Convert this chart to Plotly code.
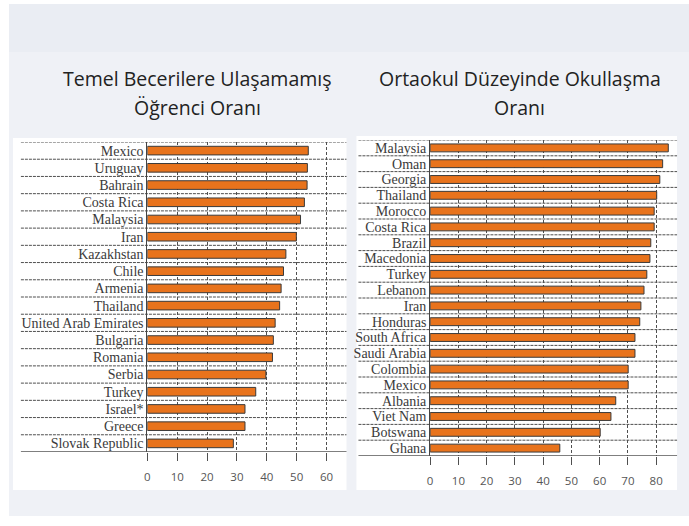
import plotly.graph_objects as go

W, H = 689, 526

# ---- data ----
left_countries = ["Mexico", "Uruguay", "Bahrain", "Costa Rica", "Malaysia", "Iran",
                  "Kazakhstan", "Chile", "Armenia", "Thailand", "United Arab Emirates",
                  "Bulgaria", "Romania", "Serbia", "Turkey", "Israel*", "Greece",
                  "Slovak Republic"]
left_values = [53.9, 53.6, 53.5, 52.6, 51.3, 49.9, 46.4, 45.6, 44.8, 44.3, 42.8,
               42.2, 41.9, 39.7, 36.3, 32.7, 32.7, 28.8]

right_countries = ["Malaysia", "Oman", "Georgia", "Thailand", "Morocco", "Costa Rica",
                   "Brazil", "Macedonia", "Turkey", "Lebanon", "Iran", "Honduras",
                   "South Africa", "Saudi Arabia", "Colombia", "Mexico", "Albania",
                   "Viet Nam", "Botswana", "Ghana"]
right_values = [84.3, 82.3, 81.3, 80.2, 79.3, 79.3, 78.1, 77.8, 76.7, 75.7, 74.6, 74.2,
                72.5, 72.5, 70.1, 70.1, 65.7, 64.0, 60.2, 45.9]

left_ticks = [0, 10, 20, 30, 40, 50, 60]
right_ticks = [0, 10, 20, 30, 40, 50, 60, 70, 80]

title_left = ["Temel Becerilere Ulaşamamış", "Öğrenci Oranı"]
title_right = ["Ortaokul Düzeyinde Okullaşma", "Oranı"]

# ---- styles ----
BAR = "#E8731C"
EDGE = "#3a3a3a"
GRID = "#4f4f4f"
LABEL_FONT = dict(family="Liberation Serif", size=14, color="#3a3a3a")
TICK_FONT = dict(family="Open Sans", size=11.5, color="#555555")
TITLE_FONT = dict(family="Open Sans", size=19.5, color="#222222")

px = lambda v: v / W
py = lambda v: 1 - v / H

fig = go.Figure()
fig.add_trace(go.Bar(x=left_values, y=left_countries, orientation="h",
                     marker=dict(color=BAR, line=dict(color=EDGE, width=1)),
                     width=0.5, xaxis="x", yaxis="y", hoverinfo="x+y"))
fig.add_trace(go.Bar(x=right_values, y=right_countries, orientation="h",
                     marker=dict(color=BAR, line=dict(color=EDGE, width=1)),
                     width=0.5, xaxis="x2", yaxis="y2", hoverinfo="x+y"))

shapes = []
# page bands
shapes.append(dict(type="rect", xref="paper", yref="paper", x0=px(6), x1=1, y0=py(516), y1=py(4),
                   fillcolor="#eff1f6", line=dict(width=0), layer="below"))
shapes.append(dict(type="rect", xref="paper", yref="paper", x0=px(6), x1=1, y0=py(52), y1=py(4),
                   fillcolor="#eaedf3", line=dict(width=0), layer="below"))
# white panels
shapes.append(dict(type="rect", xref="paper", yref="paper", x0=px(10), x1=px(345), y0=py(490), y1=py(138),
                   fillcolor="white", line=dict(width=0), layer="below"))
shapes.append(dict(type="rect", xref="paper", yref="paper", x0=px(355), x1=px(677), y0=py(490), y1=py(136),
                   fillcolor="white", line=dict(width=0), layer="below"))

def row_lines(n, yref, xa, xb):
    out = []
    for i in range(n):
        out.append(dict(type="line", xref="paper", yref=yref, x0=px(xa), x1=px(xb),
                        y0=i - 0.5, y1=i - 0.5,
                        line=dict(color=GRID, width=1, dash="3px,1px"), layer="below"))
    out.append(dict(type="line", xref="paper", yref=yref, x0=px(xa), x1=px(xb),
                    y0=n - 0.5, y1=n - 0.5, line=dict(color="#555555", width=1.5), layer="above"))
    return out

shapes += row_lines(len(left_countries), "y", 18, 345)
shapes += row_lines(len(right_countries), "y2", 357, 677)

axis_common = dict(showgrid=True, gridcolor=GRID, griddash="3px,2px", gridwidth=1,
                   ticks="outside", ticklen=8, tickcolor=GRID, tickwidth=1,
                   ticklabelstandoff=6,
                   tickfont=TICK_FONT, zeroline=False, showline=False, fixedrange=True)

annotations = []
for lines, cx in ((title_left, 195), (title_right, 519)):
    for k, line in enumerate(lines):
        annotations.append(dict(text=line, xref="paper", yref="paper", x=px(cx), y=py(78 + 29 * k),
                                xanchor="center", yanchor="middle", showarrow=False,
                                font=TITLE_FONT))

fig.update_layout(
    width=W, height=H, margin=dict(l=0, r=0, t=0, b=0),
    paper_bgcolor="white", plot_bgcolor="rgba(0,0,0,0)",
    showlegend=False, bargap=0.5,
    shapes=shapes,
    xaxis=dict(domain=[px(145), px(345)], range=[0, 66.7], tickvals=left_ticks,
               anchor="y", **axis_common),
    yaxis=dict(domain=[py(452), py(142)], range=[len(left_countries) - 0.5, -0.5],
               anchor="x", showgrid=False, showline=True, linecolor="#444444", linewidth=1,
               ticks="", tickmode="array", tickvals=left_countries, tickfont=LABEL_FONT,
               fixedrange=True),
    xaxis2=dict(domain=[px(429), px(677)], range=[0, 87.4], tickvals=right_ticks,
                anchor="y2", **axis_common),
    yaxis2=dict(domain=[py(456), py(140)], range=[len(right_countries) - 0.5, -0.5],
                anchor="x2", showgrid=False, showline=True, linecolor="#444444", linewidth=1,
                ticks="", tickmode="array", tickvals=right_countries, tickfont=LABEL_FONT,
                fixedrange=True),
    annotations=annotations,
)

fig.write_html("out.html", config={"displayModeBar": False},
               post_script="document.body.style.margin='0';document.body.style.padding='0';")
